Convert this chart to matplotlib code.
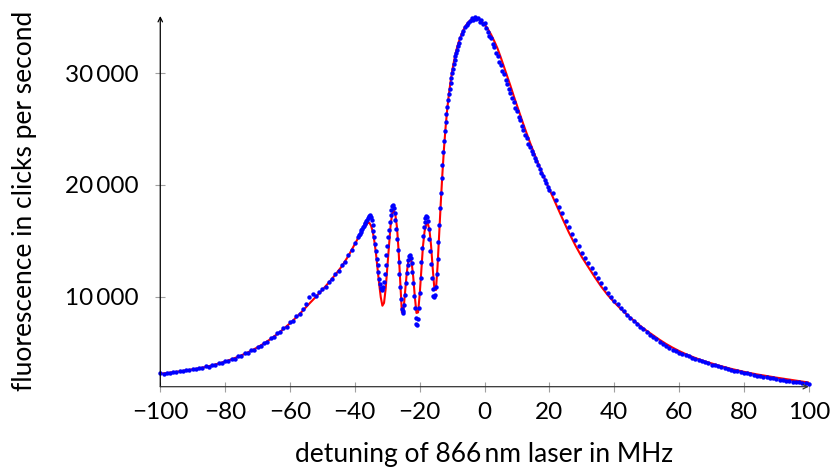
import numpy as np
import matplotlib.pyplot as plt
from matplotlib.ticker import FuncFormatter

plt.rcParams['font.family'] = ['Lato', 'DejaVu Sans']

# measured fluorescence (blue dots), sampled in four segments
det_a = np.arange(-100, -38.5, 1.0)
counts_a = [3150, 3100, 3210, 3170, 3260, 3230, 3360, 3320, 3450, 3410,
            3530, 3500, 3650, 3620, 3780, 3750, 3920, 3900, 4080, 4060,
            4270, 4250, 4460, 4480, 4700, 4720, 4950, 4990, 5230, 5270,
            5540, 5610, 5900, 5980, 6280, 6390, 6720, 6850, 7180, 7330,
            7700, 7860, 8250, 8430, 8900, 9350, 9950, 10250, 10100, 10450,
            10700, 10900, 11330, 11600, 12050, 12320, 12800, 13150, 13750, 14200,
            14850, 15300]

det_b = np.arange(-38.75, -7.9, 0.25)
counts_b = [15500, 15650, 15750, 15950,
            16100, 16250, 16350, 16500,
            16600, 16750, 16900, 17000,
            17150, 17250, 17300, 17150,
            16850, 16400, 15900, 15300,
            14700, 14100, 13400, 12800,
            12200, 11600, 11100, 10800,
            10600, 10650, 10900, 11300,
            12000, 12800, 13700, 14500,
            15300, 16000, 16700, 17300,
            17800, 18150, 18200, 17950,
            17500, 16900, 16100, 15200,
            14200, 13100, 12000, 10900,
            9800, 8900, 8550, 8700,
            9300, 10200, 11200, 12100,
            12800, 13300, 13650, 13700,
            13500, 13000, 12200, 11200,
            10100, 9000, 8100, 7550,
            7500, 8000, 9000, 10300,
            11700, 13100, 14400, 15400,
            16200, 16700, 17050, 17200,
            17150, 16800, 16100, 15200,
            14100, 12900, 11700, 10700,
            10100, 9950, 10200, 10900,
            12000, 13400, 14900, 16400,
            17900, 19300, 20600, 21800,
            22900, 23900, 24800, 25600,
            26300, 26950, 27550, 28100,
            28600, 29100, 29550, 30000,
            30400, 30800, 31150, 31500,
            31800, 32100, 32400, 32650]

det_c = np.arange(-7.5, 20.1, 0.5)
counts_c = [33100, 33500, 33750, 34100, 34300, 34500, 34650, 34900, 34750, 35000,
            34800, 34950, 34600, 34700, 34350, 34450, 34000, 33700, 33300, 33100,
            32600, 32300, 31800, 31500, 31000, 30700, 30150, 29900, 29350, 29000,
            28600, 28200, 27800, 27400, 26900, 26600, 26100, 25800, 25300, 24950,
            24500, 24150, 23700, 23350, 23050, 22750, 22450, 22100, 21800, 21450,
            21100, 20800, 20450, 20150, 19800, 19550]

det_d = np.arange(21, 100.5, 1.0)
counts_d = [19250, 18650, 18050, 17450, 16800, 16200, 15600, 15050, 14500, 13950,
            13500, 13050, 12600, 12150, 11700, 11200, 10800, 10350, 10000, 9650,
            9350, 9020, 8720, 8400, 8120, 7820, 7580, 7310, 7100, 6830,
            6600, 6380, 6200, 5960, 5800, 5600, 5460, 5280, 5150, 5010,
            4900, 4760, 4670, 4540, 4450, 4320, 4240, 4130, 4050, 3940,
            3870, 3770, 3710, 3610, 3550, 3460, 3400, 3320, 3270, 3180,
            3140, 3060, 3020, 2940, 2900, 2830, 2800, 2730, 2700, 2630,
            2600, 2540, 2510, 2450, 2420, 2360, 2340, 2280, 2260, 2210]

# fitted model (red line)
fit_det_a = np.arange(-100, -39.5, 2.0)
fit_a = [3120, 3180, 3250, 3330, 3420, 3510, 3610, 3730, 3870, 4030,
         4210, 4410, 4640, 4890, 5170, 5480, 5830, 6220, 6650, 7120,
         7630, 8180, 8770, 9400, 10000, 10620, 11280, 11980, 12730, 13650,
         14700]

fit_det_b = np.arange(-39.5, -7.9, 0.5)
fit_b = [14980, 15250, 15530, 15800, 16050, 16250, 16450, 16600, 16600, 16350,
         15850, 15000, 13900, 12550, 11150, 9950, 9200, 9450, 10700, 12600,
         14600, 16300, 17450, 17700, 17300, 16200, 14100, 11300, 8600, 8800,
         10500, 12100, 13200, 13500, 13100, 11800, 10000, 8550, 8600, 10200,
         12400, 14500, 15850, 16450, 16550, 16000, 14600, 12600, 10800, 10600,
         12700, 15600, 18400, 21000, 23300, 25200, 26800, 28100, 29200, 30150,
         30950, 31650, 32250, 32750]

fit_det_c = np.arange(-7, 20.5, 1.0)
fit_c = [33550, 34150, 34550, 34800, 34900, 34850, 34650, 34350, 33950, 33450,
         32850, 32200, 31400, 30550, 29700, 28850, 27950, 27100, 26250, 25400,
         24600, 23800, 23050, 22300, 21600, 20900, 20250, 19600]

fit_det_d = np.arange(22, 100.5, 2.0)
fit_d = [18300, 17000, 15750, 14600, 13550, 12650, 11750, 10900, 10150, 9500,
         8920, 8380, 7880, 7400, 6960, 6550, 6150, 5780, 5450, 5150,
         4880, 4640, 4420, 4220, 4040, 3870, 3710, 3560, 3420, 3290,
         3170, 3060, 2960, 2860, 2770, 2680, 2590, 2500, 2410, 2330]

x_ticks = [-100, -80, -60, -40, -20, 0, 20, 40, 60, 80, 100]
y_ticks = [10000, 20000, 30000]

detuning = np.concatenate([det_a, det_b, det_c, det_d])
counts = np.concatenate([counts_a, counts_b, counts_c, counts_d])
fit_det = np.concatenate([fit_det_a, fit_det_b, fit_det_c, fit_det_d])
fit = np.concatenate([fit_a, fit_b, fit_c, fit_d])

fig = plt.figure(figsize=(8.3, 4.71), dpi=100)
ax = fig.add_axes([0.1931, 0.179, 0.7814, 0.787])

ax.plot(fit_det, fit, color='#ff0000', lw=1.5, zorder=2)
ax.plot(detuning, counts, 'o', color='#0000ff', ms=3.2, mec='none',
        zorder=3, clip_on=False)

ax.set_xlim(-100, 100)
ax.set_ylim(1960, 35100)

for s in ax.spines.values():
    s.set_visible(False)
# axis lines with arrow heads
ax.annotate('', xy=(0, 1.0), xytext=(0, 0), xycoords='axes fraction',
            arrowprops=dict(arrowstyle='->', lw=0.9, color='black',
                            shrinkA=0, shrinkB=0, mutation_scale=8))
ax.annotate('', xy=(1.0, 0), xytext=(0, 0), xycoords='axes fraction',
            arrowprops=dict(arrowstyle='->', lw=0.9, color='#333333',
                            shrinkA=0, shrinkB=0, mutation_scale=8))

def fmt(v, pos):
    s = f"{abs(v):,.0f}".replace(",", "\u2009")
    return ("\u2212" + s) if v < 0 else s

ax.set_xticks(x_ticks)
ax.set_yticks(y_ticks)
ax.xaxis.set_major_formatter(FuncFormatter(fmt))
ax.yaxis.set_major_formatter(FuncFormatter(fmt))
ax.tick_params(direction='inout', length=7.5, width=0.8, color='#a0a0a0',
               labelsize=17.5)
ax.tick_params(axis='x', pad=7)
ax.tick_params(axis='y', pad=12)

ax.set_xlabel("detuning of 866\u2009nm laser in MHz", fontsize=19, labelpad=14)
ax.set_ylabel("fluorescence in clicks per second", fontsize=19, labelpad=20)

fig.savefig("out.png", dpi=100)
